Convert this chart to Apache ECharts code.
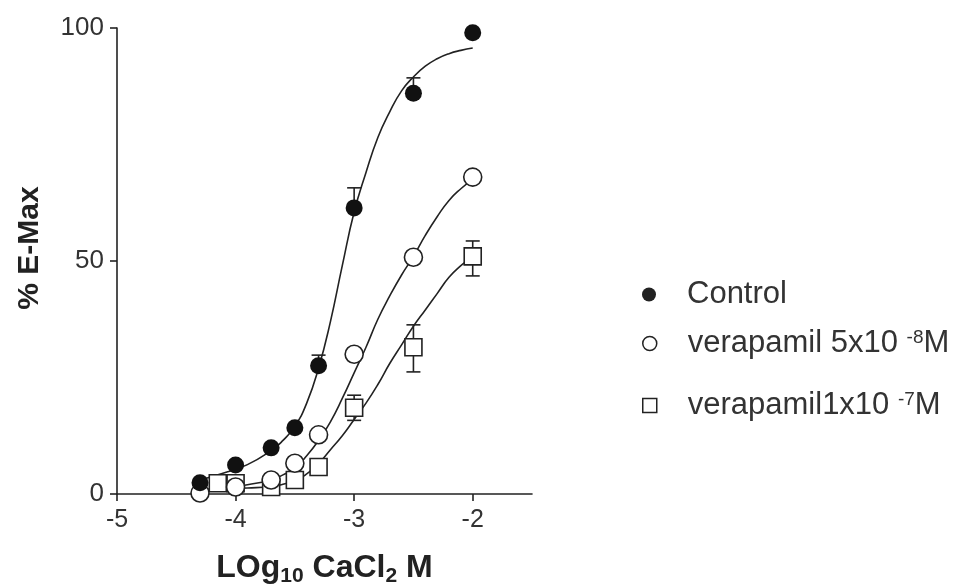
<!DOCTYPE html>
<html>
<head>
<meta charset="utf-8">
<title>CaCl2 concentration-response</title>
<script src="https://cdn.jsdelivr.net/npm/echarts@6/dist/echarts.min.js"></script>
<style>
  html, body { margin: 0; padding: 0; background: #fff; }
  #chart { width: 962px; height: 586px; }
</style>
</head>
<body>
<div id="chart"></div>
<script>
// log10 [CaCl2] doses
const doses = [-4.3, -4, -3.7, -3.5, -3.3, -3, -2.5, -2];
const doses3 = [-4.15, -4, -3.7, -3.5, -3.3, -3, -2.5, -2];
const controlVals = [2.4, 6.2, 9.9, 14.2, 27.5, 61.4, 86, 99];
const vera5Vals = [0.2, 1.5, 3.0, 6.6, 12.7, 30, 50.8, 68];
const vera1Vals = [2.3, 2.3, 1.5, 3.0, 5.8, 18.5, 31.5, 51];

// error bars [x, low, high]
const controlErr = [[-3.3, 27.5, 29.8], [-3, 61.4, 65.7], [-2.5, 86, 89.3]];
const vera1Err = [[-3, 15.8, 21.2], [-2.5, 26.2, 36.3], [-2, 46.8, 54.3]];

// fitted curves
const curveX = [-4.3, -4.1, -3.9, -3.7, -3.6, -3.5, -3.4, -3.3, -3.2, -3.1, -3, -2.9, -2.8, -2.7, -2.6, -2.5, -2.4, -2.3, -2.2, -2.1, -2];
const controlCurve = [3, 4.5, 6.3, 9.3, 11.5, 14.5, 19.5, 27, 37, 49, 60.5, 69, 76.5, 82, 86.5, 89.5, 91.8, 93.4, 94.5, 95.2, 95.7];
const vera5Curve = [0.5, 1.2, 2.0, 3.0, 4.1, 5.6, 8.2, 11.5, 15.5, 20.5, 26, 31.5, 37.5, 42.5, 47, 51, 55.5, 59.5, 63, 65.5, 67.5];
const vera1Curve = [1, 1.1, 1.3, 1.6, 2.1, 2.8, 4.3, 6.5, 9.5, 12.5, 16, 19.5, 23.5, 28, 32, 36, 39.5, 43, 46.5, 49, 51];

const xTicks = [-5, -4, -3, -2];
const names = ['Control', 'verapamil 5x10-8M', 'verapamil1x10-7M'];

const ink = '#222';
const pair = (xs, ys) => xs.map((x, i) => [x, ys[i]]);

function errBars(data) {
  return {
    type: 'custom',
    z: 1,
    silent: true,
    data: data,
    renderItem: function (params, api) {
      const lo = api.coord([api.value(0), api.value(1)]);
      const hi = api.coord([api.value(0), api.value(2)]);
      const w = 7;
      const style = { stroke: ink, lineWidth: 1.6 };
      return {
        type: 'group',
        children: [
          { type: 'line', shape: { x1: lo[0], y1: lo[1], x2: hi[0], y2: hi[1] }, style: style },
          { type: 'line', shape: { x1: hi[0] - w, y1: hi[1], x2: hi[0] + w, y2: hi[1] }, style: style },
          { type: 'line', shape: { x1: lo[0] - w, y1: lo[1], x2: lo[0] + w, y2: lo[1] }, style: style }
        ]
      };
    }
  };
}

function curve(ys) {
  return {
    type: 'line',
    smooth: true,
    showSymbol: false,
    silent: true,
    z: 1,
    data: pair(curveX, ys),
    lineStyle: { color: ink, width: 1.6 }
  };
}

const legendText = {
  fontSize: 31,
  lineHeight: 30,
  color: '#333',
  rich: {
    sup: { fontSize: 19, lineHeight: 19, color: '#333', verticalAlign: 'top' }
  }
};

function legendAt(top, item) {
  return {
    orient: 'vertical',
    left: 637,
    top: top,
    itemWidth: 14,
    itemHeight: 14,
    data: [item],
    formatter: function (name) {
      if (name === names[1]) return 'verapamil 5x10 {sup|-8}M';
      if (name === names[2]) return 'verapamil1x10 {sup|-7}M';
      return name;
    },
    textStyle: Object.assign({ padding: [0, 0, 0, 26] }, legendText)
  };
}

const chart = echarts.init(document.getElementById('chart'));
chart.setOption({
  animation: false,
  textStyle: { fontFamily: 'Liberation Sans, Arial, sans-serif' },
  grid: { left: 117, top: 28, right: 430, bottom: 92, outerBoundsMode: 'none' },
  xAxis: {
    type: 'value',
    min: -5,
    max: -1.5,
    interval: 1,
    name: '{b|LOg}{s|10}{b| CaCl}{s|2}{b| M}',
    nameLocation: 'middle',
    nameGap: 56,
    nameTextStyle: {
      rich: {
        b: { fontSize: 32, fontWeight: 'bold', color: '#222' },
        s: { fontSize: 21, fontWeight: 'bold', color: '#222', padding: [16, 0, 0, 0] }
      }
    },
    splitLine: { show: false },
    axisLine: { lineStyle: { color: ink, width: 1.6 } },
    axisTick: { customValues: xTicks, length: 7, lineStyle: { color: ink, width: 1.6 } },
    axisLabel: { customValues: xTicks, fontSize: 25, color: '#333', margin: 14 }
  },
  yAxis: {
    type: 'value',
    min: 0,
    max: 100,
    interval: 50,
    name: '% E-Max',
    nameLocation: 'middle',
    nameGap: 72,
    nameTextStyle: { fontSize: 30, fontWeight: 'bold', color: '#222', padding: [0, 0, 0, 26] },
    splitLine: { show: false },
    axisLine: { show: true, lineStyle: { color: ink, width: 1.6 } },
    axisTick: { show: true, length: 7, lineStyle: { color: ink, width: 1.6 } },
    axisLabel: { fontSize: 26, color: '#333', margin: 13 }
  },
  legend: [
    legendAt(274, { name: names[0], icon: 'circle', itemStyle: { color: ink, borderWidth: 0 } }),
    legendAt(323, { name: names[1], icon: 'circle', itemStyle: { color: '#fff', borderColor: ink, borderWidth: 1.5 } }),
    legendAt(385, { name: names[2], icon: 'rect', itemStyle: { color: '#fff', borderColor: ink, borderWidth: 1.5 } })
  ],
  series: [
    curve(controlCurve),
    curve(vera5Curve),
    curve(vera1Curve),
    errBars(controlErr),
    errBars(vera1Err),
    {
      name: names[2],
      type: 'scatter',
      symbol: 'rect',
      symbolSize: 17,
      z: 3,
      data: pair(doses3, vera1Vals),
      itemStyle: { color: '#fff', borderColor: ink, borderWidth: 1.6, opacity: 1 }
    },
    {
      name: names[1],
      type: 'scatter',
      symbol: 'circle',
      symbolSize: 18,
      z: 4,
      data: pair(doses, vera5Vals),
      itemStyle: { color: '#fff', borderColor: ink, borderWidth: 1.6, opacity: 1 }
    },
    {
      name: names[0],
      type: 'scatter',
      symbol: 'circle',
      symbolSize: 17,
      z: 5,
      data: pair(doses, controlVals),
      itemStyle: { color: '#111', opacity: 1 }
    }
  ]
});
</script>
</body>
</html>
